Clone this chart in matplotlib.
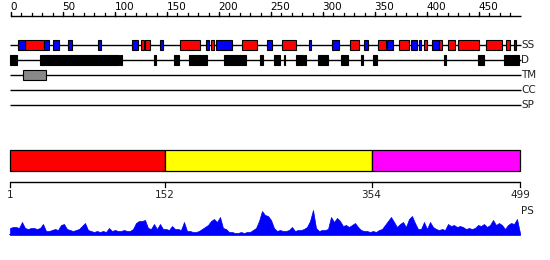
import matplotlib
matplotlib.use('Agg')
import matplotlib.pyplot as plt
from matplotlib.patches import Rectangle
import numpy as np

# ---------------- data ----------------
seq_len = 499

ruler_major = [0, 50, 100, 150, 200, 250, 300, 350, 400, 450]
ruler_minor = list(range(0, 490, 10))
ruler_end = 490

# secondary structure: (start, end)
ss_helix = [(16, 34), (129, 132), (133, 138), (167, 187), (197, 200), (228, 242),
            (267, 280), (333, 342), (360, 368), (381, 391), (405, 408), (420, 423),
            (429, 436), (438, 459), (466, 481), (485, 489)]
ss_strand = [(9, 16), (34, 39), (43, 49), (58, 62), (87, 90), (120, 126), (147, 150),
             (192, 195), (202, 218), (252, 257), (293, 295), (315, 322), (347, 351),
             (369, 375), (393, 398), (400, 402), (413, 420), (493, 495)]
disorder = [(1, 8), (30, 107), (108, 110), (142, 144), (161, 166), (176, 193),
            (210, 231), (245, 248), (259, 265), (269, 270), (280, 287), (288, 290),
            (302, 312), (324, 331), (344, 346), (355, 359), (425, 427), (458, 464),
            (483, 498)]
transmembrane = [(14, 36)]
coiled_coil = []
signal_peptide = []

track_names = ['SS', 'D', 'TM', 'CC', 'SP']

domain_bounds = [1, 152, 354, 499]
domain_colors = ['#ff0000', '#ffff00', '#ff00ff']

ps_values = [7, 8, 8, 7, 13, 7, 6, 7, 7, 6, 7, 11, 4, 4, 5, 6, 5, 10, 11, 6, 5, 4, 5, 6, 9,
             12, 5, 4, 3, 4, 3, 4, 3, 7, 4, 5, 4, 4, 5, 4, 4, 6, 12, 14, 14, 15, 7, 6, 11, 6,
             11, 6, 6, 5, 9, 6, 6, 5, 13, 4, 4, 3, 3, 4, 6, 8, 10, 14, 16, 13, 18, 7, 6, 3, 3,
             2, 2, 3, 2, 3, 3, 5, 7, 14, 24, 20, 19, 15, 7, 4, 5, 4, 4, 5, 8, 4, 5, 5, 6, 8,
             14, 25, 7, 4, 5, 5, 6, 18, 13, 17, 14, 9, 10, 8, 10, 12, 8, 5, 4, 4, 3, 4, 3, 5,
             6, 10, 14, 18, 13, 8, 11, 13, 8, 16, 19, 12, 6, 6, 13, 6, 13, 8, 6, 5, 6, 5, 11,
             9, 10, 8, 9, 8, 6, 7, 6, 7, 10, 9, 11, 8, 10, 15, 10, 12, 10, 6, 10, 12, 11, 16, 2]
ps_max = 26

# ---------------- layout ----------------
W, H = 550, 260
PX0 = 10.0                      # pixel of residue 1
PXR = 510.0 / (seq_len - 1)     # pixels per residue
RUL0, RULS = 11.0, 1.04         # top ruler pixel origin / scale
LW = 1.0

fig = plt.figure(figsize=(W / 100, H / 100), dpi=100)
fig.patch.set_facecolor('white')

def res_lim():
    return (1 - PX0 / PXR, 1 + (W - PX0) / PXR)

ax = fig.add_axes([0, 0, 1, 1])
ax.set_xlim(*res_lim())
ax.set_ylim(H, 0)
ax.axis('off')

# top ruler in its own axes
axr = fig.add_axes([0, 0, 1, 1])
axr.set_xlim(-RUL0 / RULS, (W - RUL0) / RULS)
axr.set_ylim(H, 0)
axr.axis('off')
axr.patch.set_alpha(0)
ry = 16
axr.plot([0, ruler_end], [ry, ry], color='black', lw=LW, solid_capstyle='butt')
for t in ruler_minor:
    axr.plot([t, t], [ry, ry - 3], color='black', lw=0.9)
for t in ruler_major:
    axr.plot([t, t], [ry, ry - 4.5], color='black', lw=0.9)
    axr.text(t - 0.5, ry - 4, str(t), ha='left', va='bottom', fontsize=7.5,
             family='DejaVu Sans', color='black')

# tracks
track_y = [45, 60, 75, 90, 105]
for name, y in zip(track_names, track_y):
    ax.plot([1, seq_len + 0.5], [y, y], color='black', lw=LW, solid_capstyle='butt', zorder=1)
    ax.text(1 + (521 - PX0) / PXR, y, name, ha='left', va='center', fontsize=7.5,
            family='DejaVu Sans', color='#222222')

def boxes(feats, y, h, color):
    for s, e in feats:
        ax.add_patch(Rectangle((s, y - h / 2), e - s, h, facecolor=color,
                               edgecolor='black', lw=0.8, zorder=3))

boxes(ss_helix, track_y[0], 10.5, '#ff0000')
boxes(ss_strand, track_y[0], 10.5, '#0000ff')
boxes(disorder, track_y[1], 10.5, '#000000')
boxes(transmembrane, track_y[2], 10, '#888888')
boxes(coiled_coil, track_y[3], 10, '#888888')
boxes(signal_peptide, track_y[4], 10, '#888888')

# domain bar
by0, by1 = 150, 170.5
for i, c in enumerate(domain_colors):
    s, e = domain_bounds[i], domain_bounds[i + 1]
    ax.add_patch(Rectangle((s, by0), e - s, by1 - by0, facecolor=c,
                           edgecolor='black', lw=0.9, zorder=3))

ly = 181.5
ax.plot([domain_bounds[0], domain_bounds[-1]], [ly, ly], color='black', lw=LW,
        solid_capstyle='butt')
for b in domain_bounds:
    ax.plot([b, b], [ly, ly + 5.5], color='black', lw=0.9)
    ax.text(b, ly + 8, str(b), ha='center', va='top', fontsize=7.5,
            family='DejaVu Sans', color='#222222')

# PS profile
ps_top, ps_base = 209, 235
axp = fig.add_axes([0, (H - ps_base) / H, 1, (ps_base - ps_top) / H])
axp.set_xlim(*res_lim())
axp.set_ylim(0, ps_max)
axp.axis('off')
axp.patch.set_alpha(0)
ps_pos = np.linspace(1, seq_len, len(ps_values))
axp.fill_between(ps_pos, 0, ps_values, color='#0000ff', lw=0.5, edgecolor='#0000ff')
axp.plot([1, seq_len], [0, 0], color='#0000ff', lw=1.2)
ax.text(1 + (521 - PX0) / PXR, 211, 'PS', ha='left', va='center', fontsize=7.5,
        family='DejaVu Sans', color='#222222')

fig.savefig('out.png', dpi=100, facecolor='white')
